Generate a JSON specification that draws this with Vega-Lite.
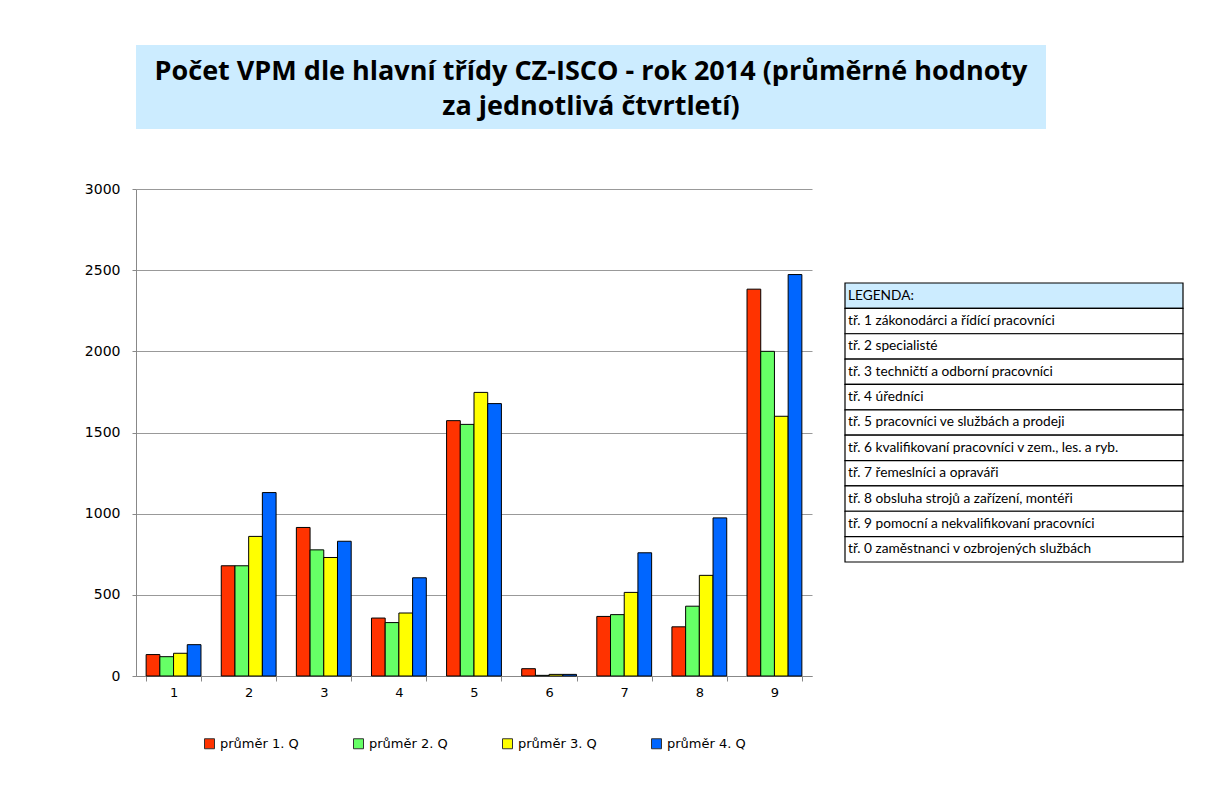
{
  "$schema": "https://vega.github.io/schema/vega-lite/v6.json",
  "background": "white",
  "padding": {"left": 84, "top": 45, "right": 5, "bottom": 5},
  "config": {
    "view": {"stroke": null},
    "font": "DejaVu Sans",
    "axis": {"labelColor": "#000", "labelFont": "DejaVu Sans"},
    "legend": {"labelColor": "#000", "labelFont": "DejaVu Sans", "layout": {"bottom": {"anchor": "middle"}}}
  },
  "datasets": {
    "title": [
      {"nadpis": "Počet VPM dle hlavní třídy CZ-ISCO - rok 2014 (průměrné hodnoty\nza jednotlivá čtvrtletí)"}
    ],
    "bars": [
      {"trida": "1", "obdobi": "průměr 1. Q", "pocet": 132},
      {"trida": "1", "obdobi": "průměr 2. Q", "pocet": 119},
      {"trida": "1", "obdobi": "průměr 3. Q", "pocet": 140},
      {"trida": "1", "obdobi": "průměr 4. Q", "pocet": 193},
      {"trida": "2", "obdobi": "průměr 1. Q", "pocet": 679},
      {"trida": "2", "obdobi": "průměr 2. Q", "pocet": 679},
      {"trida": "2", "obdobi": "průměr 3. Q", "pocet": 860},
      {"trida": "2", "obdobi": "průměr 4. Q", "pocet": 1130},
      {"trida": "3", "obdobi": "průměr 1. Q", "pocet": 915},
      {"trida": "3", "obdobi": "průměr 2. Q", "pocet": 777},
      {"trida": "3", "obdobi": "průměr 3. Q", "pocet": 730},
      {"trida": "3", "obdobi": "průměr 4. Q", "pocet": 830},
      {"trida": "4", "obdobi": "průměr 1. Q", "pocet": 357},
      {"trida": "4", "obdobi": "průměr 2. Q", "pocet": 329},
      {"trida": "4", "obdobi": "průměr 3. Q", "pocet": 388},
      {"trida": "4", "obdobi": "průměr 4. Q", "pocet": 605},
      {"trida": "5", "obdobi": "průměr 1. Q", "pocet": 1573},
      {"trida": "5", "obdobi": "průměr 2. Q", "pocet": 1550},
      {"trida": "5", "obdobi": "průměr 3. Q", "pocet": 1747},
      {"trida": "5", "obdobi": "průměr 4. Q", "pocet": 1678},
      {"trida": "6", "obdobi": "průměr 1. Q", "pocet": 45},
      {"trida": "6", "obdobi": "průměr 2. Q", "pocet": 4},
      {"trida": "6", "obdobi": "průměr 3. Q", "pocet": 10},
      {"trida": "6", "obdobi": "průměr 4. Q", "pocet": 10},
      {"trida": "7", "obdobi": "průměr 1. Q", "pocet": 367},
      {"trida": "7", "obdobi": "průměr 2. Q", "pocet": 378},
      {"trida": "7", "obdobi": "průměr 3. Q", "pocet": 515},
      {"trida": "7", "obdobi": "průměr 4. Q", "pocet": 759},
      {"trida": "8", "obdobi": "průměr 1. Q", "pocet": 303},
      {"trida": "8", "obdobi": "průměr 2. Q", "pocet": 430},
      {"trida": "8", "obdobi": "průměr 3. Q", "pocet": 620},
      {"trida": "8", "obdobi": "průměr 4. Q", "pocet": 974},
      {"trida": "9", "obdobi": "průměr 1. Q", "pocet": 2383},
      {"trida": "9", "obdobi": "průměr 2. Q", "pocet": 2000},
      {"trida": "9", "obdobi": "průměr 3. Q", "pocet": 1600},
      {"trida": "9", "obdobi": "průměr 4. Q", "pocet": 2473}
    ],
    "tabulka": [
      {"radek": "LEGENDA:", "typ": "hlavicka"},
      {"radek": "tř. 1 zákonodárci a řídící pracovníci", "typ": "radek"},
      {"radek": "tř. 2 specialisté", "typ": "radek"},
      {"radek": "tř. 3 techničtí a odborní pracovníci", "typ": "radek"},
      {"radek": "tř. 4 úředníci", "typ": "radek"},
      {"radek": "tř. 5 pracovníci ve službách a prodeji", "typ": "radek"},
      {"radek": "tř. 6 kvalifikovaní pracovníci v zem., les. a ryb.", "typ": "radek"},
      {"radek": "tř. 7 řemeslníci a opraváři", "typ": "radek"},
      {"radek": "tř. 8 obsluha strojů a zařízení, montéři", "typ": "radek"},
      {"radek": "tř. 9 pomocní a nekvalifikovaní pracovníci", "typ": "radek"},
      {"radek": "tř. 0 zaměstnanci v ozbrojených službách", "typ": "radek"}
    ]
  },
  "bounds": "flush",
  "spacing": 60,
  "resolve": {"scale": {"color": "independent", "fill": "independent"}, "legend": {"color": "independent", "fill": "independent"}},
  "vconcat": [
    {
      "width": 910,
      "height": 84,
      "view": {"fill": "#CCECFF", "stroke": null},
      "data": {"name": "title"},
      "mark": {"type": "text", "font": "Open Sans", "fontWeight": "bold", "fontSize": 27, "lineBreak": "\n", "lineHeight": 35, "align": "center", "baseline": "middle", "dy": -15, "color": "#000"},
      "encoding": {"text": {"field": "nadpis"}}
    },
    {
      "bounds": "flush",
      "center": true,
      "spacing": 33,
      "resolve": {"scale": {"color": "independent", "fill": "independent"}, "legend": {"color": "independent", "fill": "independent"}},
      "hconcat": [
        {
          "width": 676,
          "height": 487,
          "data": {"name": "bars"},
          "mark": {"type": "bar", "stroke": "#000", "strokeWidth": 1},
          "encoding": {
            "x": {
              "field": "trida", "type": "nominal",
              "scale": {"paddingInner": 0.27, "paddingOuter": 0.135},
              "axis": {"title": null, "labelAngle": 0, "tickBand": "extent", "domainColor": "#888", "tickColor": "#888", "tickSize": 5, "labelFontSize": 13, "labelPadding": 5}
            },
            "xOffset": {"field": "obdobi", "type": "nominal", "scale": {"paddingInner": 0, "paddingOuter": 0}},
            "y": {
              "field": "pocet", "type": "quantitative",
              "scale": {"domain": [0, 3000], "nice": false},
              "axis": {"title": null, "format": "d", "values": [0, 500, 1000, 1500, 2000, 2500, 3000], "gridColor": "#999", "gridOpacity": 1, "domainColor": "#888", "tickColor": "#888", "tickSize": 4, "labelPadding": 12, "labelFontSize": 14}
            },
            "color": {
              "field": "obdobi", "type": "nominal",
              "scale": {"domain": ["průměr 1. Q", "průměr 2. Q", "průměr 3. Q", "průměr 4. Q"], "range": ["#FF3300", "#66FF66", "#FFFF00", "#0066FF"]},
              "legend": {"orient": "bottom", "direction": "horizontal", "title": null, "symbolType": "square", "symbolSize": 100, "symbolStrokeColor": "#333", "symbolStrokeWidth": 1, "symbolOpacity": 1, "labelFontSize": 13, "columnPadding": 52, "offset": 38}
            }
          }
        },
        {
          "width": 338,
          "height": 319,
          "data": {"name": "tabulka"},
          "layer": [
            {
              "mark": {"type": "rect", "stroke": "#000", "strokeWidth": 1.2},
              "encoding": {
                "y": {"field": "radek", "type": "nominal", "sort": null, "scale": {"paddingInner": 0, "paddingOuter": 0.789, "align": 0.25}, "axis": null},
                "fill": {"field": "typ", "type": "nominal", "scale": {"domain": ["hlavicka", "radek"], "range": ["#CCECFF", "#FFFFFF"]}, "legend": null}
              }
            },
            {
              "mark": {"type": "text", "align": "left", "baseline": "middle", "dx": 3, "font": "Lato", "fontSize": 13.7, "color": "#000"},
              "encoding": {
                "y": {"field": "radek", "type": "nominal", "sort": null, "axis": null},
                "x": {"datum": 0, "type": "quantitative", "scale": {"domain": [0, 1]}, "axis": null},
                "text": {"field": "radek"},
                "fontWeight": {"condition": {"test": "datum.typ === 'hlavicka'", "value": "bold"}, "value": "normal"}
              }
            }
          ]
        }
      ]
    }
  ]
}
